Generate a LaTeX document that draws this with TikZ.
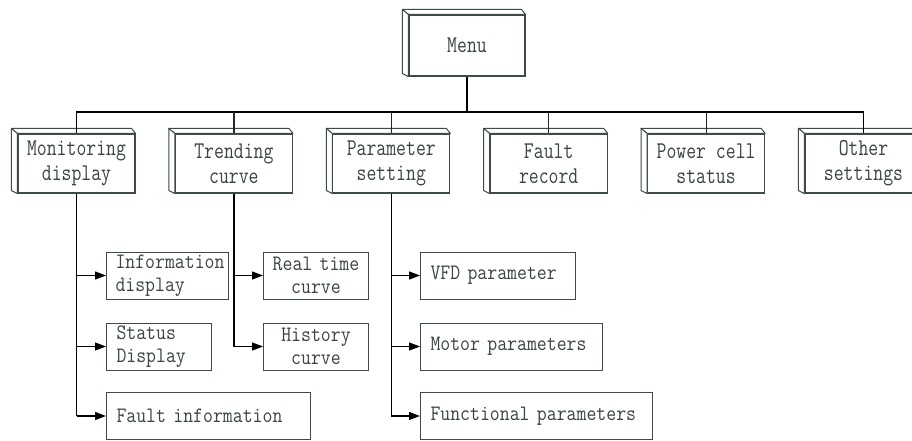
\documentclass[tikz,border=0pt]{standalone}
\usepackage{fontspec}
\newfontfamily\boxfont[FakeStretch=0.8]{Latin Modern Mono}
\newfontfamily\childfont[FakeStretch=0.875]{Latin Modern Mono}
\usetikzlibrary{arrows.meta,calc}
\definecolor{edgec}{HTML}{3E4B46}
\definecolor{txtc}{HTML}{3A4440}
\tikzset{
  topbox/.style={draw=edgec, line width=1.1pt, fill=white, minimum width=117pt, minimum height=59pt,
    inner sep=2pt, align=center, text=txtc, font=\boxfont\fontsize{24}{25}\selectfont},
  face/.style={draw=edgec, line width=1pt, fill=white, line join=round},
  childbox/.style={draw=edgec, line width=1pt, fill=white, minimum height=47pt, inner xsep=10pt, inner ysep=1pt,
    anchor=west, text=txtc, font=\childfont\fontsize{22}{22.5}\selectfont},
  busline/.style={draw=black, line width=1.5pt},
  stemline/.style={draw=black!85, line width=1.2pt},
  menustem/.style={draw=black, line width=2.2pt},
  conn/.style={draw=black, line width=1.3pt, -{Triangle[length=11pt,width=8pt]}},
  trunk/.style={draw=black, line width=1.3pt}
}
\newcommand\boxdepth[1]{%
  \filldraw[face] ($(#1.north west)+(-6,-5)$) -- ($(#1.north east)+(-4,-5)$) -- (#1.north east) -- (#1.north west) -- cycle;
  \filldraw[face] ($(#1.north west)+(-6,-5)$) -- ($(#1.south west)+(-6,-3)$) -- (#1.south west) -- (#1.north west) -- cycle;}
\begin{document}
\begin{tikzpicture}[x=1pt,y=-1pt]
\useasboundingbox (0,0) rectangle (912,441);
\clip (0,0) rectangle (912,441);
\fill[white] (0,0) rectangle (912,441);

% top level boxes
\node[topbox, minimum width=116pt, minimum height=61pt] (menu) at (467,45.5) {Menu};
\node[topbox] (mon)   at (76.5,163.5)  {Monitoring\\display};
\node[topbox] (trend) at (233.9,163.5) {Trending\\curve};
\node[topbox] (param) at (391.3,163.5) {Parameter\\setting};
\node[topbox] (fault) at (548.7,163.5) {Fault\\record};
\node[topbox] (power) at (706.1,163.5) {Power cell\\status};
\node[topbox] (other) at (863.5,163.5) {Other\\settings};
\foreach \n in {menu,mon,trend,param,fault,power,other} {\boxdepth{\n}}

% children
\node[childbox, inner xsep=9pt, text width=104pt, align=left] (info) at (106,275.5) {Information\\display};
\node[childbox, text width=85pt, align=left] (status) at (106,346.5) {Status\\Display};
\node[childbox, text width=184pt, align=left] (finfo) at (106,416) {Fault information};
\node[childbox, inner xsep=4pt, text width=97pt, align=center] (real) at (263,275.5) {Real time\\curve};
\node[childbox, inner xsep=4pt, text width=97pt, align=center] (hist) at (263,346.5) {History\\curve};
\node[childbox, text width=135pt, align=left] (vfd) at (420,275.5) {VFD parameter};
\node[childbox, text width=162pt, align=left] (motor) at (420,346.5) {Motor parameters};
\node[childbox, text width=212pt, align=left] (func) at (420,416) {Functional parameters};

% bus
\coordinate (bus) at (467,112);
\draw[busline] (mon.north) |- (bus) -| (other.north);
\foreach \n in {trend,param,fault,power} {\draw[stemline] (\n.north) -- (\n.north |- bus);}
\draw[menustem] (menu.south) -- (bus);

% branches
\draw[trunk] (mon.south) -- (mon.south |- finfo.west);
\draw[conn] (mon.south |- info.west) -- (info.west);
\draw[conn] (mon.south |- status.west) -- (status.west);
\draw[conn] (mon.south |- finfo.west) -- (finfo.west);

\draw[trunk] (trend.south) -- (trend.south |- hist.west);
\draw[conn] (trend.south |- real.west) -- (real.west);
\draw[conn] (trend.south |- hist.west) -- (hist.west);

\draw[trunk] (param.south) -- (param.south |- func.west);
\draw[conn] (param.south |- vfd.west) -- (vfd.west);
\draw[conn] (param.south |- motor.west) -- (motor.west);
\draw[conn] (param.south |- func.west) -- (func.west);
\end{tikzpicture}
\end{document}
